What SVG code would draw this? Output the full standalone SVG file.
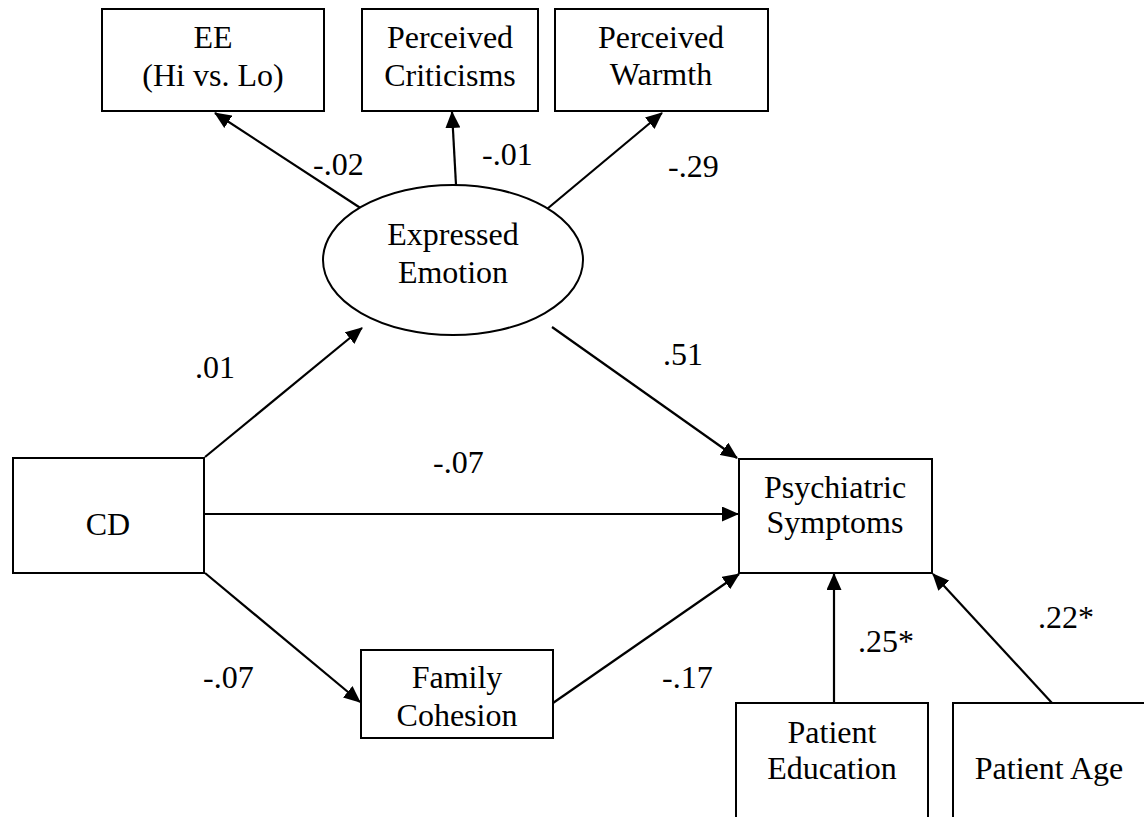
<svg xmlns="http://www.w3.org/2000/svg" width="1144" height="817" viewBox="0 0 1144 817" font-family="'Liberation Serif', 'Times New Roman', Times, serif">
<style>
.node{fill:#fff;stroke:#000;stroke-width:2}
text{font-family:'Liberation Serif','Times New Roman',Times,serif;font-size:32px;fill:#000}
.m{text-anchor:middle}
.edge{stroke:#000;stroke-width:2.2;fill:none;marker-end:url(#arr)}
</style>
<defs>
<marker id="arr" markerUnits="userSpaceOnUse" markerWidth="17" markerHeight="15" refX="16" refY="7.5" orient="auto">
<path d="M0,0 L17,7.5 L0,15 z" fill="#000"/>
</marker>
</defs>
<rect width="1144" height="817" fill="#fff"/>
<g id="connectors">
<line class="edge" x1="362" y1="209" x2="215" y2="113"/>
<line class="edge" x1="456" y1="185" x2="452" y2="112"/>
<line class="edge" x1="547" y1="209" x2="662" y2="113"/>
<line class="edge" x1="205" y1="457" x2="362" y2="328"/>
<line class="edge" x1="205" y1="514" x2="738" y2="514"/>
<line class="edge" x1="205" y1="573" x2="360" y2="702"/>
<line class="edge" x1="553" y1="703" x2="739" y2="574"/>
<line class="edge" x1="552" y1="327" x2="737" y2="458"/>
<line class="edge" x1="834" y1="703" x2="834" y2="574"/>
<line class="edge" x1="1052" y1="703" x2="933" y2="574"/>
<text x="313" y="175">-.02</text>
<text x="482" y="165">-.01</text>
<text x="668" y="177">-.29</text>
<text x="195" y="378">.01</text>
<text x="663" y="365">.51</text>
<text x="433" y="473">-.07</text>
<text x="203" y="688">-.07</text>
<text x="662" y="688">-.17</text>
<text x="858" y="652">.25*</text>
<text x="1038" y="628">.22*</text>
</g>
<g id="ee">
<rect class="node" x="102" y="9" width="222" height="102"/>
<text class="m" x="213" y="48">EE</text>
<text class="m" x="213" y="86">(Hi vs. Lo)</text>
</g>
<g id="criticisms">
<rect class="node" x="362" y="9" width="176" height="102"/>
<text class="m" x="450" y="48">Perceived</text>
<text class="m" x="450" y="86">Criticisms</text>
</g>
<g id="warmth">
<rect class="node" x="555" y="9" width="213" height="102"/>
<text class="m" x="661" y="48">Perceived</text>
<text class="m" x="661" y="85">Warmth</text>
</g>
<g id="expressed-emotion">
<ellipse class="node" cx="453" cy="260" rx="130" ry="75"/>
<text class="m" x="453" y="245">Expressed</text>
<text class="m" x="453" y="283">Emotion</text>
</g>
<g id="cd">
<rect class="node" x="13" y="458" width="191" height="115"/>
<text class="m" x="108" y="535">CD</text>
</g>
<g id="psychiatric-symptoms">
<rect class="node" x="739" y="459" width="193" height="114"/>
<text class="m" x="835" y="498">Psychiatric</text>
<text class="m" x="835" y="533">Symptoms</text>
</g>
<g id="family-cohesion">
<rect class="node" x="361" y="650" width="192" height="88"/>
<text class="m" x="457" y="688">Family</text>
<text class="m" x="457" y="726">Cohesion</text>
</g>
<g id="patient-education">
<rect class="node" x="736" y="703" width="192" height="130"/>
<text class="m" x="832" y="743">Patient</text>
<text class="m" x="832" y="779">Education</text>
</g>
<g id="patient-age">
<rect class="node" x="953" y="703" width="193" height="130"/>
<text class="m" x="1049" y="779">Patient Age</text>
</g>
</svg>
